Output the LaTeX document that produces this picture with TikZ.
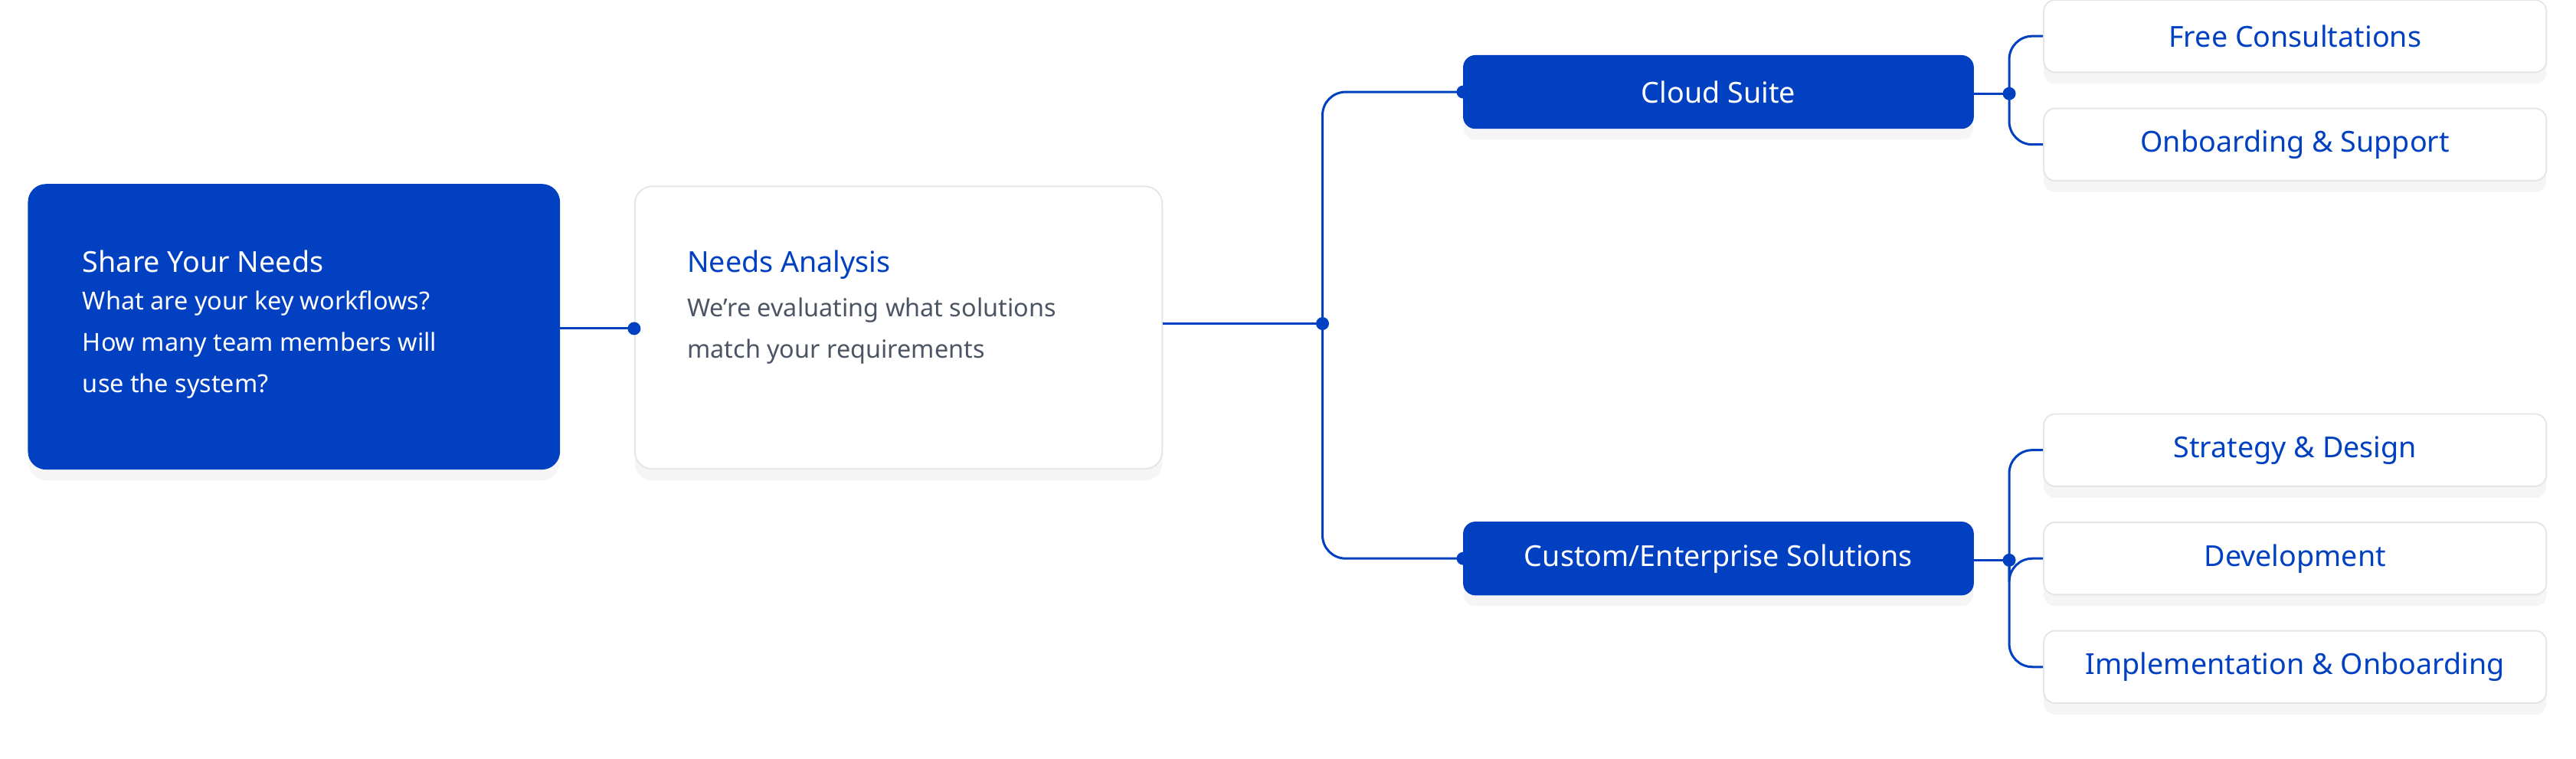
\documentclass[tikz,border=0pt]{standalone}
\usepackage{fontspec}
\setmainfont{Noto Sans}
\usepackage{xcolor}
\usepackage{tikz}
\usetikzlibrary{positioning,calc,shadows}
\definecolor{brand}{RGB}{0,64,193}
\definecolor{edge}{RGB}{226,229,234}
\definecolor{body}{RGB}{75,85,99}

\begin{document}
\begin{tikzpicture}[
    x=0.02cm, y=-0.02cm,
    card/.style={draw=edge, fill=white, rounded corners=6pt, line width=0.5pt,
        drop shadow={opacity=0.08, shadow xshift=0pt, shadow yshift=-4pt}},
    bluecard/.style={card, draw=brand, fill=brand},
    title/.style={anchor=north west, inner sep=0pt, font=\fontsize{10}{12}\selectfont\bfseries},
    desc/.style={anchor=north west, inner sep=0pt, align=left, font=\fontsize{8.6}{14.3}\selectfont},
    branch/.style={bluecard, minimum width=310*0.02cm, minimum height=44*0.02cm, rounded corners=4pt,
        text=white, font=\fontsize{10}{12}\selectfont\bfseries},
    leaf/.style={card, minimum width=306*0.02cm, minimum height=44*0.02cm, rounded corners=4pt,
        text=brand, font=\fontsize{10}{12}\selectfont\bfseries},
    link/.style={draw=brand, line width=0.8pt, rounded corners=8pt},
    dot/.style={circle, fill=brand, inner sep=0pt, minimum size=4.5pt}
]
    \useasboundingbox (0,0) rectangle (1568,462);

    % Left cards
    \node[bluecard, minimum width=323*0.02cm, minimum height=173*0.02cm, anchor=north west] (share) at (17,112) {};
    \node[title, text=white] (shareT) at ($(share.north west)+(33,40)$) {Share Your Needs};
    \node[desc, text=white, below=6pt of shareT.south west, anchor=north west] {What are your key workflows?\\How many team members will\\use the system?};

    \node[card, minimum width=321*0.02cm, minimum height=172*0.02cm, anchor=north west] (needs) at (386,113) {};
    \node[title, text=brand] (needsT) at ($(needs.north west)+(32,39)$) {Needs Analysis};
    \node[desc, text=body, below=6pt of needsT.south west, anchor=north west] {We’re evaluating what solutions\\match your requirements};

    % Branches
    \node[branch] (cloud) at (1046,56) {Cloud Suite};
    \node[branch] (custom) at (1046,340) {Custom/Enterprise Solutions};

    % Leaves
    \foreach \name/\y/\text in {
        free/22/Free Consultations,
        onboard/88/Onboarding \& Support,
        strategy/274/Strategy \& Design,
        dev/340/Development,
        impl/406/Implementation \& Onboarding
    } {
        \node[leaf] (\name) at (1397,\y) {\text};
    }

    % Connectors
    \coordinate (j1) at (805,197);
    \coordinate (j2) at (1223,57);
    \coordinate (j3) at (1223,341);
    \draw[link] (share.east |- 0,200) -- (needs.west |- 0,200);
    \draw[link] (needs.east |- j1) -- (j1);
    \draw[link] (j1) |- (cloud.west);
    \draw[link] (j1) |- (custom.west);
    \draw[link] (cloud.east |- j2) -- (j2);
    \draw[link] (custom.east |- j3) -- (j3);
    \foreach \n in {free, onboard} \draw[link] (j2) |- (\n.west);
    \foreach \n in {strategy, dev, impl} \draw[link] (j3) |- (\n.west);

    % Dots
    \node[dot] at (needs.west |- 0,200) {};
    \foreach \c in {j1, j2, j3, cloud.west, custom.west} \node[dot] at (\c) {};
\end{tikzpicture}
\end{document}
